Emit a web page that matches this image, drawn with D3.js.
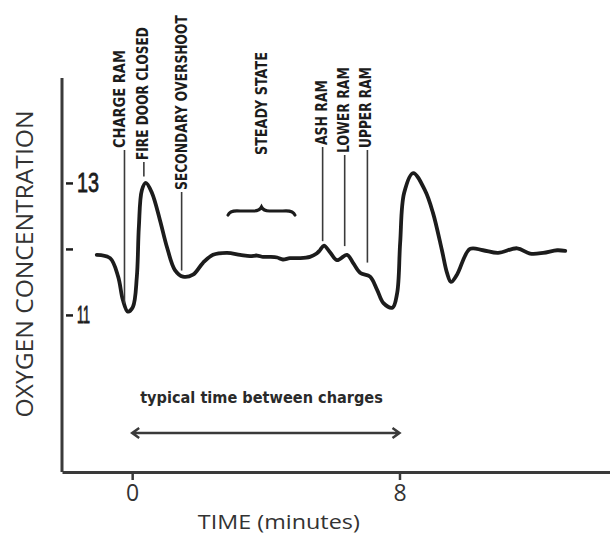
<!DOCTYPE html>
<html>
<head>
<meta charset="utf-8">
<script src="https://cdn.jsdelivr.net/npm/d3@7"></script>
<style>
  body { margin: 0; background: #fff; }
  svg { display: block; }
</style>
</head>
<body>
<div id="chart"></div>
<script>
// Curva: tempo (minutos) e concentração de oxigênio
const times = [
  -1.06, -0.66, -0.42, -0.28, -0.13, 0.02, 0.14, 0.2, 0.29, 0.41, 0.59, 0.83,
  1.04, 1.28, 1.52, 1.82, 2.12, 2.42, 2.84, 3.23, 3.53, 3.74, 3.92, 4.13, 4.34,
  4.51, 4.72, 5.02, 5.32, 5.52, 5.62, 5.74, 5.92, 6.13, 6.43, 6.61, 6.82, 7.12,
  7.33, 7.52, 7.79, 7.93, 8.02, 8.14, 8.41, 8.76, 9.0, 9.27, 9.42, 9.54, 9.72,
  10.11, 10.5, 10.95, 11.52, 11.91, 12.3, 12.72, 12.96,
]
const oxygen = [
  11.91, 11.86, 11.58, 11.23, 11.05, 11.12, 11.58, 12.33, 12.89, 13.0, 12.85,
  12.44, 12.03, 11.68, 11.58, 11.61, 11.79, 11.91, 11.94, 11.91, 11.89, 11.9,
  11.88, 11.88, 11.87, 11.84, 11.86, 11.86, 11.88, 11.93, 11.98, 12.05, 11.95,
  11.83, 11.91, 11.79, 11.64, 11.58, 11.38, 11.18, 11.11, 11.33, 12.09, 12.85,
  13.15, 12.89, 12.55, 11.98, 11.64, 11.5, 11.61, 12.0, 11.98, 11.94, 12.01,
  11.93, 11.94, 11.98, 11.97,
]

// Eixos
const xTicks = [0, 8]
const yTicks = [11, 12, 13]
const yTickLabels = ["11", "", "13"]
const xTitle = "TIME (minutes)"
const yTitle = "OXYGEN CONCENTRATION"

// Eventos marcados sobre a curva
const eventLabels = [
  "CHARGE RAM",
  "FIRE DOOR CLOSED",
  "SECONDARY OVERSHOOT",
  "ASH RAM",
  "LOWER RAM",
  "UPPER RAM",
]
const eventTimes = [-0.23, 0.35, 1.48, 5.7, 6.36, 7.04]

const steadyLabel = "STEADY STATE"
const steadyRange = [2.87, 4.87]

const spanLabel = "typical time between charges"
const spanRange = [0, 8]

// Layout dos rótulos dos eventos (pixels)
const eventTextTop = [50, 27, 15, 80, 67, 67]
const eventTextBottom = [148, 160, 190, 145, 153, 148]
const eventTextDx = [-5, -1, 0, -1, -1, -2]
const eventGap = [0, 10, 5, 6, 10, 13]

// Ajusta a largura do texto com escala horizontal (mantém a caixa correta)
function fitText(text, baseTransform, length) {
  const natural = text.node().getComputedTextLength()
  const k = natural > 0 ? length / natural : 1
  text.attr("transform", baseTransform + " scale(" + k + ",1)")
}

function drawChart() {
  const width = 610
  const height = 535
  const ink = "#1c1c1c"
  const grey = "#3a3a3a"
  const plainFont = "'Open Sans', 'DejaVu Sans', sans-serif"
  const labelFont = "'DejaVu Sans', sans-serif"
  const handFont = "'Liberation Sans', Arial, sans-serif"

  const svg = d3
    .select("#chart")
    .append("svg")
    .attr("width", width)
    .attr("height", height)

  // Escalas
  const x = d3.scaleLinear().domain([-2.1, 14.3]).range([62, 610])
  const y = d3.scaleLinear().domain([8.62, 14.59]).range([472, 78])

  const points = times.map((t, i) => ({ t, v: oxygen[i] }))
  const valueAt = d3.scaleLinear().domain(times).range(oxygen)

  // Eixo X
  svg
    .append("g")
    .attr("transform", "translate(0," + y.range()[0] + ")")
    .call(
      d3.axisBottom(x).tickValues(xTicks).tickSize(8).tickSizeOuter(0).tickPadding(5)
    )
    .call((g) => g.select(".domain").attr("stroke", grey).attr("stroke-width", 3))
    .call((g) => g.selectAll(".tick line").attr("stroke", grey).attr("stroke-width", 2.5))
    .call((g) =>
      g
        .selectAll(".tick text")
        .attr("fill", "#333")
        .attr("font-family", plainFont)
        .attr("font-size", 23)
    )

  // Eixo Y (linha)
  svg
    .append("line")
    .attr("x1", x.range()[0])
    .attr("x2", x.range()[0])
    .attr("y1", y.range()[1])
    .attr("y2", y.range()[0])
    .attr("stroke", grey)
    .attr("stroke-width", 3)

  // Marcas do eixo Y, desenhadas à mão no original
  svg
    .append("g")
    .attr("transform", "translate(66,0)")
    .call(
      d3
        .axisRight(y)
        .tickValues(yTicks)
        .tickFormat((d, i) => yTickLabels[i])
        .tickSize(7)
        .tickPadding(4)
    )
    .call((g) => g.select(".domain").remove())
    .call((g) => g.selectAll(".tick line").attr("stroke", ink).attr("stroke-width", 2.5))
    .call((g) =>
      g
        .selectAll(".tick text")
        .attr("fill", ink)
        .attr("stroke", ink)
        .attr("stroke-width", 0.8)
        .attr("font-family", handFont)
        .attr("font-size", (d) => (d === 13 ? 27 : 23))
        .each(function (d) {
          const t = d3.select(this)
          const x0 = +t.attr("x")
          t.attr("x", 0)
          fitText(t, "translate(" + x0 + ",0)", d === 13 ? 22 : 13)
        })
    )

  // Títulos dos eixos
  const yTitleText = svg
    .append("text")
    .attr("text-anchor", "middle")
    .attr("dominant-baseline", "central")
    .attr("font-family", plainFont)
    .attr("font-size", 23)
    .attr("fill", "#333")
    .text(yTitle)
  fitText(yTitleText, "translate(24,264) rotate(-90)", 307)

  const xTitleText = svg
    .append("text")
    .attr("text-anchor", "middle")
    .attr("font-family", plainFont)
    .attr("font-size", 20)
    .attr("fill", "#333")
    .text(xTitle)
  fitText(xTitleText, "translate(" + ((x(0) + x(8)) / 2 + 13) + ",529)", 162)

  // Curva de oxigênio
  const line = d3
    .line()
    .x((d) => x(d.t))
    .y((d) => y(d.v))
    .curve(d3.curveCatmullRom.alpha(0.5))

  svg
    .append("path")
    .datum(points)
    .attr("d", line)
    .attr("fill", "none")
    .attr("stroke", ink)
    .attr("stroke-width", 3.8)
    .attr("stroke-linejoin", "round")
    .attr("stroke-linecap", "round")

  // Eventos: linha vertical + rótulo girado
  const events = svg.append("g")
  eventLabels.forEach((label, i) => {
    const t = eventTimes[i]
    const px = x(t)
    const bottom = eventTextBottom[i]
    events
      .append("line")
      .attr("x1", px)
      .attr("x2", px)
      .attr("y1", bottom + 2)
      .attr("y2", y(valueAt(t)) - eventGap[i])
      .attr("stroke", grey)
      .attr("stroke-width", 1.6)
    const text = events
      .append("text")
      .attr("dominant-baseline", "central")
      .attr("font-family", labelFont)
      .attr("font-weight", "bold")
      .attr("font-size", 15)
      .attr("fill", ink)
      .text(label)
    fitText(
      text,
      "translate(" + (px + eventTextDx[i]) + "," + bottom + ") rotate(-90)",
      bottom - eventTextTop[i]
    )
  })

  // Chave do regime permanente
  const bx0 = x(steadyRange[0])
  const bx1 = x(steadyRange[1])
  const bm = (bx0 + bx1) / 2
  const by = 212
  const brace = d3.path()
  brace.moveTo(bx0, by + 3)
  brace.quadraticCurveTo(bx0 + 2, by - 2, bx0 + 12, by - 1)
  brace.lineTo(bm - 8, by - 1)
  brace.quadraticCurveTo(bm - 2, by - 1, bm, by - 5)
  brace.quadraticCurveTo(bm + 2, by - 1, bm + 8, by - 1)
  brace.lineTo(bx1 - 12, by - 1)
  brace.quadraticCurveTo(bx1 - 2, by - 2, bx1, by + 3)
  svg
    .append("path")
    .attr("d", brace.toString())
    .attr("fill", "none")
    .attr("stroke", ink)
    .attr("stroke-width", 3.2)
    .attr("stroke-linecap", "round")

  const steadyText = svg
    .append("text")
    .attr("dominant-baseline", "central")
    .attr("font-family", labelFont)
    .attr("font-weight", "bold")
    .attr("font-size", 15)
    .attr("fill", ink)
    .text(steadyLabel)
  fitText(steadyText, "translate(" + bm + ",155) rotate(-90)", 103)

  // Seta dupla: tempo típico entre cargas
  const ax0 = x(spanRange[0])
  const ax1 = x(spanRange[1])
  const ay = 433
  svg
    .append("path")
    .attr(
      "d",
      "M" + ax0 + "," + ay + "H" + ax1 +
        "M" + (ax0 + 7) + "," + (ay - 5) + "L" + ax0 + "," + ay + "L" + (ax0 + 7) + "," + (ay + 5) +
        "M" + (ax1 - 7) + "," + (ay - 5) + "L" + ax1 + "," + ay + "L" + (ax1 - 7) + "," + (ay + 5)
    )
    .attr("fill", "none")
    .attr("stroke", grey)
    .attr("stroke-width", 2.5)

  const spanText = svg
    .append("text")
    .attr("font-family", labelFont)
    .attr("font-weight", "bold")
    .attr("font-size", 16)
    .attr("fill", "#2a2a2a")
    .text(spanLabel)
  fitText(spanText, "translate(" + (ax0 + 8) + ",403)", 243)
}

drawChart()
</script>
</body>
</html>
